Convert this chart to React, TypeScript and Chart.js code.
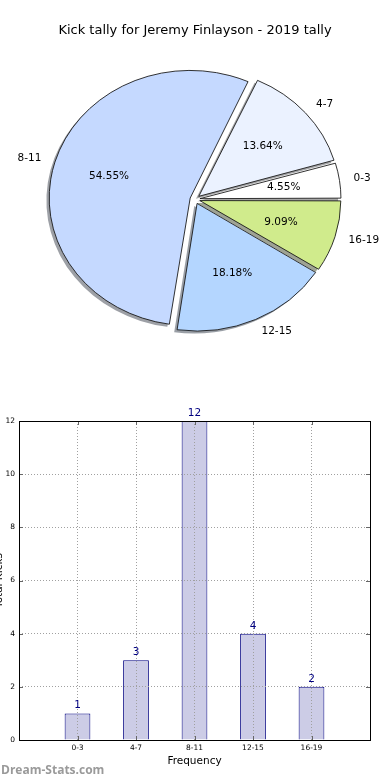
import React, { useEffect, useRef } from 'react';
import { Chart, registerables } from 'chart.js';

Chart.register(...registerables);
Chart.defaults.font.family = '"DejaVu Sans", sans-serif';

// ---- data ----
const TITLE = 'Kick tally for Jeremy Finlayson - 2019 tally';
const categories = ['0-3', '4-7', '8-11', '12-15', '16-19'];
const counts = [1, 3, 12, 4, 2];
const sliceColors = ['#FFFFFF', '#EBF2FF', '#C5D9FF', '#B4D6FF', '#D0EB8C'];
const yTicks = [0, 2, 4, 6, 8, 10, 12];
const X_TITLE = 'Frequency';
const Y_TITLE = 'Total Kicks';
const WATERMARK = 'Dream-Stats.com';

// ---- pie geometry / style ----
const R = 141; // horizontal radius in px
const K = 0.905; // vertical squash of the pie
const OFFSET = 20; // chart.js offset (moves slice by OFFSET/4)
const SHADOW = 2.8;
const LABEL_FONT = '10.5px "DejaVu Sans"';

function shadowColor(hex: string) {
  const n = parseInt(hex.slice(1), 16);
  const r = (n >> 16) & 255, g = (n >> 8) & 255, b = n & 255;
  return `rgba(${Math.round(r * 0.3)},${Math.round(g * 0.3)},${Math.round(b * 0.3)},0.5)`;
}

// pie drawn clockwise from 3 o'clock, so reverse the order to mimic counter-clockwise
const pieOrder = categories.map((_, i) => i).reverse();
const pieLabels = pieOrder.map((i) => categories[i]);
const pieValues = pieOrder.map((i) => counts[i]);
const pieColors = pieOrder.map((i) => sliceColors[i]);

const piePlugin = {
  id: 'piePlugin',
  afterDatasetUpdate(chart: any, args: any) {
    const arcs = args.meta.data;
    arcs.forEach((arc: any) => {
      const circ = arc.endAngle - arc.startAngle;
      const fix = 1 - Math.sin(Math.min(Math.PI, circ));
      arc.outerRadius = R - (OFFSET / 4) * fix;
    });
  },
  beforeDatasetsDraw(chart: any) {
    const ctx = chart.ctx;
    const arcs = chart.getDatasetMeta(0).data;
    const cx = arcs[0].x, cy = arcs[0].y;
    ctx.save();
    ctx.translate(cx, cy);
    ctx.scale(1, K);
    ctx.translate(-cx, -cy);
    const d = OFFSET / 4;
    arcs.forEach((arc: any, i: number) => {
      const mid = (arc.startAngle + arc.endAngle) / 2;
      const x = cx + d * Math.cos(mid) - SHADOW;
      const y = cy + d * Math.sin(mid) + SHADOW;
      ctx.beginPath();
      ctx.moveTo(x, y);
      ctx.arc(x, y, R, arc.startAngle, arc.endAngle);
      ctx.closePath();
      ctx.fillStyle = shadowColor(pieColors[i]);
      ctx.fill();
    });
  },
  afterDatasetsDraw(chart: any) {
    const ctx = chart.ctx;
    ctx.restore();
    const arcs = chart.getDatasetMeta(0).data;
    const cx = arcs[0].x, cy = arcs[0].y;
    const d = OFFSET / 4;
    const total = pieValues.reduce((a, b) => a + b, 0);
    ctx.save();
    ctx.font = LABEL_FONT;
    ctx.fillStyle = '#000';
    ctx.textBaseline = 'middle';
    arcs.forEach((arc: any, i: number) => {
      const mid = (arc.startAngle + arc.endAngle) / 2;
      const c = Math.cos(mid), s = Math.sin(mid);
      const wx = cx + d * c, wy = cy + d * s * K;
      ctx.textAlign = c > 0 ? 'left' : 'right';
      ctx.fillText(pieLabels[i], wx + 1.1 * R * c, wy + 1.1 * R * K * s);
      ctx.textAlign = 'center';
      const pct = ((pieValues[i] / total) * 100).toFixed(2) + '%';
      ctx.fillText(pct, wx + 0.6 * R * c, wy + 0.6 * R * K * s);
    });
    ctx.restore();
  },
};

const barPlugin = {
  id: 'barPlugin',
  afterDraw(chart: any) {
    const ctx = chart.ctx;
    const { left, right, top, bottom } = chart.chartArea;
    const xs = chart.scales.x, ys = chart.scales.y;
    ctx.save();
    // inward tick marks
    ctx.strokeStyle = '#666';
    ctx.lineWidth = 1;
    ctx.beginPath();
    yTicks.forEach((v) => {
      const py = Math.round(ys.getPixelForValue(v)) + 0.5;
      ctx.moveTo(left, py); ctx.lineTo(left + 4, py);
      ctx.moveTo(right - 4, py); ctx.lineTo(right, py);
    });
    categories.forEach((_, i) => {
      const px = Math.round(xs.getPixelForValue(i)) + 0.5;
      ctx.moveTo(px, bottom); ctx.lineTo(px, bottom - 4);
      ctx.moveTo(px, top); ctx.lineTo(px, top + 4);
    });
    ctx.stroke();
    // axes box
    ctx.strokeStyle = '#000';
    ctx.lineWidth = 1;
    ctx.strokeRect(Math.round(left) + 0.5, Math.round(top) + 0.5, Math.round(right - left), Math.round(bottom - top));
    // value labels
    ctx.font = '10.5px "DejaVu Sans"';
    ctx.fillStyle = '#000080';
    ctx.textAlign = 'center';
    ctx.textBaseline = 'alphabetic';
    chart.getDatasetMeta(0).data.forEach((bar: any, i: number) => {
      ctx.fillText(String(counts[i]), bar.x, bar.y - 5);
    });
    ctx.restore();
  },
};

export default function App() {
  const pieRef = useRef<HTMLCanvasElement>(null);
  const barRef = useRef<HTMLCanvasElement>(null);

  useEffect(() => {
    const pie = new Chart(pieRef.current as HTMLCanvasElement, {
      type: 'pie',
      data: {
        labels: pieLabels,
        datasets: [
          {
            data: pieValues,
            backgroundColor: pieColors,
            borderColor: '#111',
            borderWidth: 0.9,
            offset: OFFSET,
            radius: R,
            clip: false,
          } as any,
        ],
      },
      options: {
        responsive: false,
        animation: false,
        events: [],
        rotation: 90,
        layout: { padding: { bottom: 0 } },
        plugins: {
          legend: { display: false },
          tooltip: { enabled: false },
          title: {
            display: true,
            text: TITLE,
            color: '#000',
            font: { size: 13, weight: 'normal' },
            padding: { top: 23, bottom: 0 },
          },
        },
      } as any,
      plugins: [piePlugin],
    });

    const gridCommon = { color: '#a0a0a0', lineWidth: 1, drawTicks: false, z: 1, offset: false };
    const bar = new Chart(barRef.current as HTMLCanvasElement, {
      type: 'bar',
      data: {
        datasets: [
          {
            data: categories.map((_, i) => ({ x: i, y: counts[i] })),
            backgroundColor: '#CCCCE6',
            borderColor: '#000080',
            borderWidth: 1,
            barPercentage: 0.44,
            categoryPercentage: 1,
          },
        ],
      },
      options: {
        responsive: false,
        animation: false,
        events: [],
        layout: { padding: { top: 21, right: 20, left: 0, bottom: 0 } },
        plugins: { legend: { display: false }, tooltip: { enabled: false } },
        scales: {
          x: {
            type: 'linear',
            min: -1,
            max: 5,
            offset: false,
            grid: gridCommon,
            border: { display: false, dash: [1, 2] },
            ticks: {
              stepSize: 1,
              padding: 4,
              color: '#000',
              font: { size: 7.5 },
              autoSkip: false,
              maxRotation: 0,
              callback: (v: any) => categories[v] ?? '',
            },
            title: {
              display: true,
              text: X_TITLE,
              color: '#000',
              font: { size: 10.5 },
              padding: { top: 0, bottom: 12.7 },
            },
            afterFit: (s: any) => {
              s.height = 40;
            },
          },
          y: {
            min: 0,
            max: 12,
            grid: gridCommon,
            border: { display: false, dash: [1, 2] },
            ticks: {
              stepSize: 2,
              padding: 4,
              color: '#000',
              font: { size: 7.5 },
            },
            title: {
              display: true,
              text: Y_TITLE,
              color: '#000',
              font: { size: 10.5 },
              padding: { top: 5, bottom: 0 },
            },
            afterFit: (s: any) => {
              s.width = 31;
            },
          },
        },
      } as any,
      plugins: [barPlugin],
    });

    return () => {
      pie.destroy();
      bar.destroy();
    };
  }, []);

  return (
    <div
      style={{
        position: 'absolute',
        left: 0,
        top: 0,
        width: 390,
        height: 780,
        overflow: 'hidden',
        background: '#fff',
      }}
    >
      <canvas ref={pieRef} width={390} height={360} style={{ position: 'absolute', left: 0, top: 0 }} />
      <canvas ref={barRef} width={402} height={380} style={{ position: 'absolute', left: -12, top: 400 }} />
      <div
        style={{
          position: 'absolute',
          left: 1,
          top: 762,
          font: 'bold 12px "Open Sans", sans-serif',
          lineHeight: '16px',
          color: '#9a9a9a',
          whiteSpace: 'nowrap',
        }}
      >
        {WATERMARK}
      </div>
    </div>
  );
}
